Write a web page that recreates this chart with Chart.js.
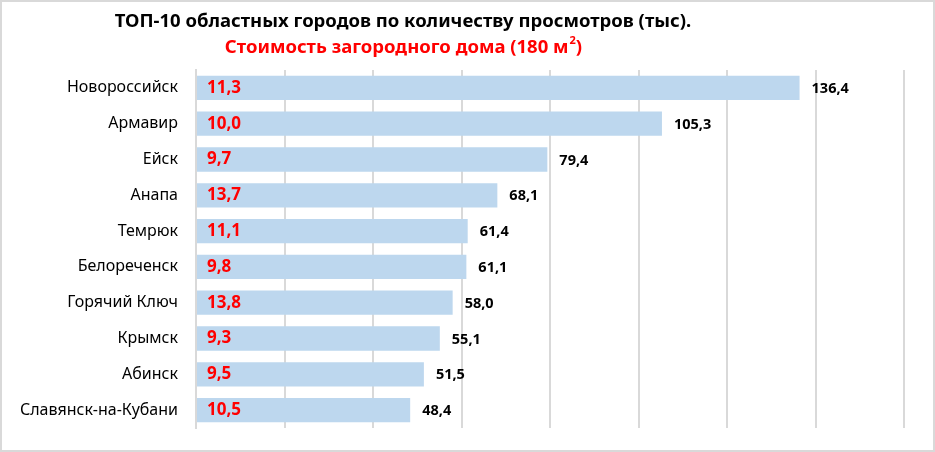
<!DOCTYPE html>
<html>
<head>
<meta charset="utf-8">
<script src="https://cdn.jsdelivr.net/npm/chart.js@4.4.0/dist/chart.umd.min.js"></script>
<style>
    body { margin: 0; background: #fff; }
    #wrap { width: 935px; height: 452px; box-sizing: border-box; border: 2px solid #d9d9d9; }
    canvas { display: block; }
</style>
</head>
<body>
<div id="wrap"><canvas id="chart" width="931" height="448"></canvas></div>
<script>
const cities = ["Новороссийск", "Армавир", "Ейск", "Анапа", "Темрюк", "Белореченск", "Горячий Ключ", "Крымск", "Абинск", "Славянск-на-Кубани"];
const views = [136.4, 105.3, 79.4, 68.1, 61.4, 61.1, 58.0, 55.1, 51.5, 48.4];
const houseCost = [11.3, 10.0, 9.7, 13.7, 11.1, 9.8, 13.8, 9.3, 9.5, 10.5];

const FONT = "'Noto Sans', 'Open Sans', sans-serif";
const fmt = v => v.toFixed(1).replace('.', ',');

// title + subtitle with superscript
const titlePlugin = {
    id: 'titles',
    afterDraw(chart) {
        const ctx = chart.ctx;
        ctx.save();
        ctx.textBaseline = 'middle';
        ctx.textAlign = 'center';
        ctx.fillStyle = '#000';
        ctx.font = "bold 18.5px " + FONT;
        ctx.fillText("ТОП-10 областных городов по количеству просмотров (тыс).", 401, 20);

        ctx.fillStyle = '#ff0000';
        const main = "Стоимость загородного дома (180 м";
        const tail = ")";
        ctx.font = "bold 11px " + FONT;
        const supW = ctx.measureText("2").width;
        ctx.font = "bold 18.5px " + FONT;
        const mainW = ctx.measureText(main).width;
        const tailW = ctx.measureText(tail).width;
        let x = 401 - (mainW + supW + tailW) / 2;
        ctx.textAlign = 'left';
        ctx.fillText(main, x, 46);
        x += mainW;
        ctx.font = "bold 11px " + FONT;
        ctx.fillText("2", x + 1, 39);
        x += supW + 1;
        ctx.font = "bold 18.5px " + FONT;
        ctx.fillText(tail, x, 46);
        ctx.restore();
    }
};

// red cost inside bar, black views after bar end
const valuePlugin = {
    id: 'values',
    afterDatasetsDraw(chart) {
        const ctx = chart.ctx;
        const meta = chart.getDatasetMeta(0);
        ctx.save();
        ctx.textBaseline = 'middle';
        ctx.textAlign = 'left';
        meta.data.forEach((bar, i) => {
            ctx.font = "bold 17px " + FONT;
            ctx.fillStyle = '#ff0000';
            ctx.fillText(fmt(houseCost[i]), bar.base + 10, bar.y);
            ctx.font = "bold 14.5px " + FONT;
            ctx.fillStyle = '#000';
            ctx.fillText(fmt(views[i]), bar.x + 12, bar.y + 1);
        });
        ctx.restore();
    }
};

new Chart(document.getElementById('chart').getContext('2d'), {
    type: 'bar',
    data: {
        labels: cities,
        datasets: [{
            data: views,
            backgroundColor: '#bdd7ee',
            categoryPercentage: 1,
            barPercentage: 0.68
        }]
    },
    options: {
        indexAxis: 'y',
        responsive: false,
        animation: false,
        layout: { padding: { top: 68, right: 29, bottom: 22, left: 0 } },
        plugins: {
            legend: { display: false },
            tooltip: { enabled: false }
        },
        scales: {
            x: {
                min: 0,
                max: 160,
                ticks: { display: false, stepSize: 20 },
                grid: { color: '#d9d9d9', lineWidth: 2, drawTicks: false },
                border: { display: false },
                afterFit(axis) { axis.height = 0; }
            },
            y: {
                ticks: { color: '#000', font: { family: FONT, size: 16 }, padding: 18 },
                grid: { display: false, drawTicks: false },
                border: { color: '#d9d9d9', width: 2 },
                afterFit(axis) {
                    axis.width = 194;
                    axis.paddingTop = 0;
                    axis.paddingBottom = 0;
                }
            }
        }
    },
    plugins: [titlePlugin, valuePlugin]
});
</script>
</body>
</html>
